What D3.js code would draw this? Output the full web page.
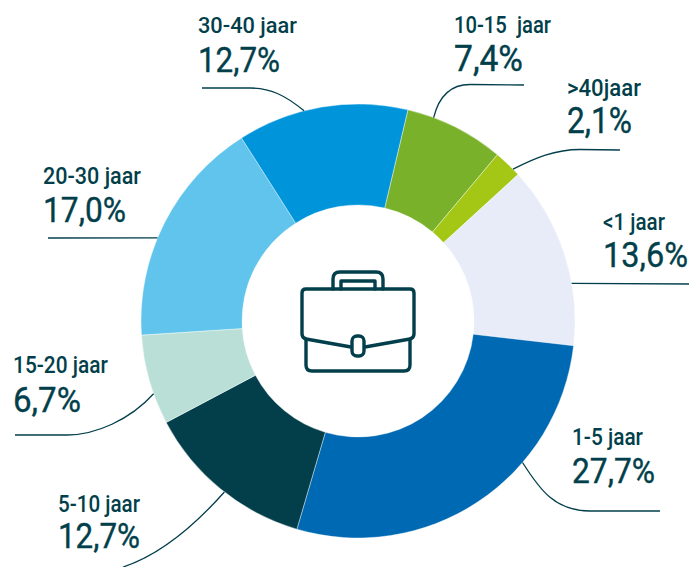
<!DOCTYPE html>
<html>
<head>
<meta charset="utf-8">
<script src="https://cdn.jsdelivr.net/npm/d3@7"></script>
<style>
  html, body { margin: 0; padding: 0; background: #fff; }
  svg { display: block; }
  text { font-family: Roboto, sans-serif; fill: #023f4b; }
</style>
</head>
<body>
<svg id="chart" width="691" height="567"></svg>
<script>
// clockwise, starting at the 10-15 slice
const categories = ["10-15  jaar", ">40jaar", "<1 jaar", "1-5 jaar", "5-10 jaar", "15-20 jaar", "20-30 jaar", "30-40 jaar"];
const values = [7.4, 2.1, 13.6, 27.7, 12.7, 6.7, 17.0, 12.7];
const colors = ["#79b22a", "#a4c615", "#e8ecf8", "#0069b4", "#023f4b", "#badfd7", "#60c4ec", "#0095db"];

// label placement, same order as categories
const labelX = [454, 567, 603, 572, 58, 13, 43, 198];
const labelY = [33, 96, 230, 445, 512, 373, 184, 33];
const valueY = [71, 133, 267, 483, 548, 412, 222, 72];
const labelW = [97, 74, 62, 71, 82, 95, 98, 99];
const valueW = [69, 65, 85, 83, 82, 68, 83, 82];

// leader lines: angle where it leaves the ring (deg), then the path onwards
const leaderAngle = [20.4, 45.6, 80, 130.7, 218, 250.4, 292.5, 345.6];
const leaderRest = [
  "C438,100 448,84.5 470,84.5L524,85",
  "C535,158 555,149.5 580,149.5L620,150",
  "L689,284",
  "C540,490 555,511 590,511L660,511",
  "C195,525 160,555 123,567",
  "C130,420 95,435 67,435L15,435",
  "L48,238",
  "C285,95 270,88 250,88L202,88"
];

const cx = 358, cy = 321, outer = 217, inner = 116;

const svg = d3.select("#chart");
const g = svg.append("g").attr("transform", `translate(${cx},${cy})`);

const start = 13.3 * Math.PI / 180;
const pie = d3.pie().sort(null).startAngle(start).endAngle(start + 2 * Math.PI);
const arc = d3.arc().innerRadius(inner).outerRadius(outer);

g.selectAll("path.slice")
  .data(pie(values))
  .enter()
  .append("path")
  .attr("class", "slice")
  .attr("d", arc)
  .style("fill", (d, i) => colors[i])
  .style("stroke", "#fff")
  .style("stroke-width", 0.4);

// leaders
svg.selectAll("path.leader")
  .data(leaderAngle)
  .enter()
  .append("path")
  .attr("class", "leader")
  .attr("d", (a, i) => {
    const [x, y] = d3.pointRadial(a * Math.PI / 180, outer);
    return `M${x + cx},${y + cy}${leaderRest[i]}`;
  })
  .style("fill", "none")
  .style("stroke", "#023f4b")
  .style("stroke-width", 1.3);

// the reference font is condensed, so squeeze Roboto to the measured width
function squeeze(sel, ys, widths) {
  sel.attr("transform", function (d, i) {
    const sx = widths[i] / this.getComputedTextLength();
    return `translate(${labelX[i]},${ys[i]}) scale(${sx},1)`;
  });
}

// labels
svg.selectAll("text.label")
  .data(categories)
  .enter()
  .append("text")
  .attr("class", "label")
  .style("font-size", "23px")
  .style("font-weight", 500)
  .style("white-space", "pre")
  .text(d => d)
  .call(squeeze, labelY, labelW);

svg.selectAll("text.value")
  .data(values)
  .enter()
  .append("text")
  .attr("class", "value")
  .style("font-size", "36px")
  .style("stroke", "#023f4b")
  .style("stroke-width", 0.4)
  .text(d => d.toFixed(1).replace(".", ",") + "%")
  .call(squeeze, valueY, valueW);

// briefcase icon
const icon = svg.append("g")
  .style("fill", "none")
  .style("stroke", "#023f4b")
  .style("stroke-width", 3.4)
  .style("stroke-linejoin", "round")
  .style("stroke-linecap", "round");

icon.append("path").attr("d", "M333,289V279Q333,272 340,272H376Q383,272 383,279V289");
icon.append("path").attr("d", "M341,289V281H375V289");
icon.append("path").attr("d", "M351,347L306,339Q302,338 302,334V293Q302,289 306,289H410Q414,289 414,293V334Q414,338 410,339L365,347");
icon.append("path").attr("d", "M306,339V365Q306,371 312,371H404Q410,371 410,365V339");
icon.append("rect").attr("x", 352).attr("y", 336).attr("width", 12).attr("height", 20).attr("rx", 5);
</script>
</body>
</html>
